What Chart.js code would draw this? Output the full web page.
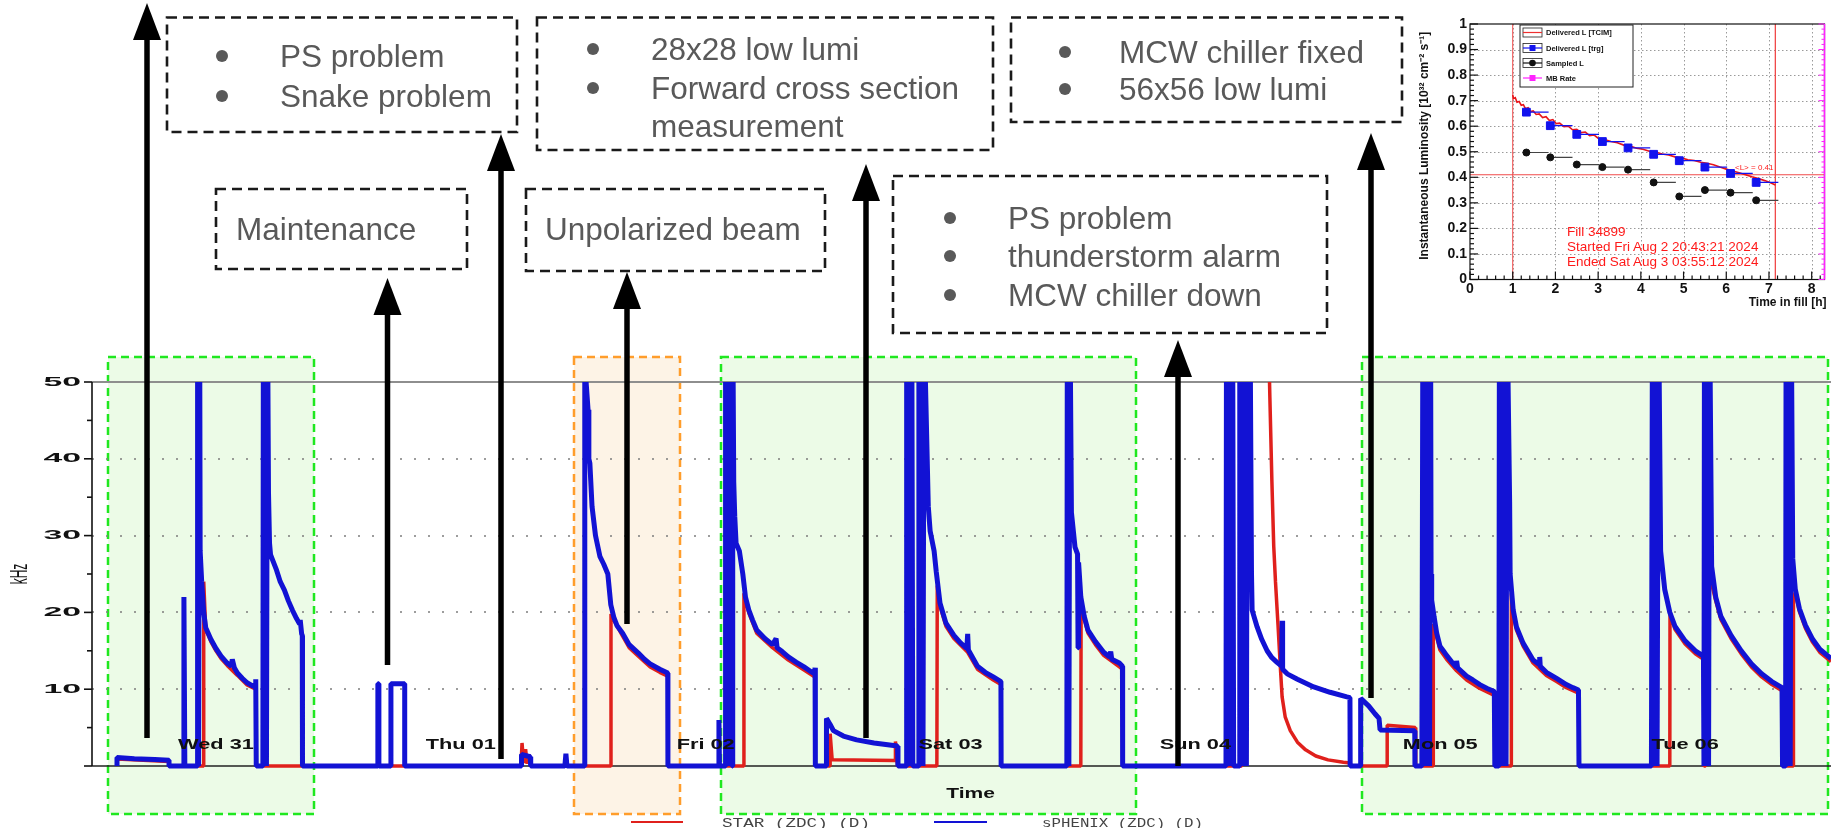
<!DOCTYPE html>
<html>
<head>
<meta charset="utf-8">
<title>ZDC rates, Jul 31 - Aug 6</title>
<script src="https://cdn.jsdelivr.net/npm/chart.js@4.4.1/dist/chart.umd.min.js"></script>
<style>
	html, body { margin: 0; padding: 0; background: #fff; }
	body { width: 1831px; height: 828px; position: relative; overflow: hidden; }
	.layer { position: absolute; left: 0; top: 0; }
	#rates { position: absolute; left: 0; top: 0; }
	#lumi { position: absolute; left: 1413px; top: 0; }
	.note rect { fill: none; stroke: #1a1a1a; stroke-width: 2.6; stroke-dasharray: 10 6; }
	.note circle { fill: #595959; }
	.note text { font-family: "Liberation Sans", Arial, sans-serif; font-size: 31.5px; fill: #595959; }
	.arrows line { stroke: #000; stroke-width: 5.5; }
	.arrows polygon { fill: #000; }
	.leg text { font-family: "Liberation Sans", Arial, sans-serif; font-weight: bold; font-size: 7.5px; fill: #111; }
</style>
</head>
<body>

<svg class="layer" width="1831" height="828">
	<g stroke-width="2.5" stroke-dasharray="8 5">
		<rect x="108" y="357" width="206" height="457" fill="#ecfbe7" stroke="#1fe81f"/>
		<rect x="574" y="357" width="106" height="457" fill="#fdf3e6" stroke="#ff9d2b"/>
		<rect x="721" y="357" width="415" height="457" fill="#ecfbe7" stroke="#1fe81f"/>
		<rect x="1362" y="357" width="466" height="457" fill="#ecfbe7" stroke="#1fe81f"/>
	</g>
</svg>

<canvas id="rates" width="1831" height="828"></canvas>
<canvas id="lumi" width="418" height="315"></canvas>

<svg class="layer" width="1831" height="828">
	<g class="note">
		<rect x="167" y="17.5" width="350" height="114.5"/>
		<circle cx="222" cy="56" r="6"/><circle cx="222" cy="96" r="6"/>
		<text x="280" y="67">PS problem</text>
		<text x="280" y="107">Snake problem</text>

		<rect x="216" y="189" width="251" height="80"/>
		<text x="236" y="240">Maintenance</text>

		<rect x="537" y="17.5" width="456" height="132.5"/>
		<circle cx="593" cy="49" r="6"/><circle cx="593" cy="88" r="6"/>
		<text x="651" y="60">28x28 low lumi</text>
		<text x="651" y="99">Forward cross section</text>
		<text x="651" y="137">measurement</text>

		<rect x="526" y="189" width="299" height="82"/>
		<text x="545" y="240">Unpolarized beam</text>

		<rect x="1011" y="17.5" width="391" height="104.5"/>
		<circle cx="1065" cy="52" r="6"/><circle cx="1065" cy="89" r="6"/>
		<text x="1119" y="63">MCW chiller fixed</text>
		<text x="1119" y="100">56x56 low lumi</text>

		<rect x="893" y="176" width="434" height="157"/>
		<circle cx="950" cy="218" r="6"/><circle cx="950" cy="256" r="6"/><circle cx="950" cy="295" r="6"/>
		<text x="1008" y="229">PS problem</text>
		<text x="1008" y="267">thunderstorm alarm</text>
		<text x="1008" y="306">MCW chiller down</text>
	</g>

	<g class="arrows">
		<line x1="147" y1="738" x2="147" y2="38"/><polygon points="133,40 161,40 147,3"/>
		<line x1="387.5" y1="665" x2="387.5" y2="312"/><polygon points="373.5,315 401.5,315 387.5,278"/>
		<line x1="501" y1="759" x2="501" y2="168"/><polygon points="487,171 515,171 501,134"/>
		<line x1="627" y1="624" x2="627" y2="306"/><polygon points="613,309 641,309 627,272"/>
		<line x1="866" y1="738" x2="866" y2="198"/><polygon points="852,201 880,201 866,164"/>
		<line x1="1178" y1="766" x2="1178" y2="374"/><polygon points="1164,377 1192,377 1178,340"/>
		<line x1="1371" y1="698" x2="1371" y2="167"/><polygon points="1357,170 1385,170 1371,133"/>
	</g>

	<g>
		<line x1="631" y1="822" x2="683" y2="822" stroke="#e0201c" stroke-width="2"/>
		<text x="722" y="827" font-family="Liberation Mono, monospace" font-size="12" fill="#444" textLength="148" lengthAdjust="spacingAndGlyphs">STAR (ZDC) (D)</text>
		<line x1="934" y1="822" x2="987" y2="822" stroke="#1212d4" stroke-width="2"/>
		<text x="1042" y="827" font-family="Liberation Mono, monospace" font-size="12" fill="#444" textLength="161" lengthAdjust="spacingAndGlyphs">sPHENIX (ZDC) (D)</text>
	</g>

	<g class="leg">
		<rect x="1520" y="25" width="113" height="62" fill="#fff" stroke="#222" stroke-width="1"/>
		<rect x="1523" y="28" width="19" height="9" fill="#fff" stroke="#222" stroke-width="0.8"/>
		<line x1="1523" y1="32.5" x2="1542" y2="32.5" stroke="#ee3030" stroke-width="1.2"/>
		<text x="1546" y="35">Delivered L [TCIM]</text>
		<rect x="1523" y="43.5" width="19" height="9" fill="#fff" stroke="#222" stroke-width="0.8"/>
		<line x1="1523" y1="48" x2="1542" y2="48" stroke="#1212ee" stroke-width="1.2"/>
		<rect x="1529.5" y="45" width="6" height="6" fill="#1212ee"/>
		<text x="1546" y="50.5">Delivered L [trg]</text>
		<rect x="1523" y="58.5" width="19" height="9" fill="#fff" stroke="#222" stroke-width="0.8"/>
		<line x1="1523" y1="63" x2="1542" y2="63" stroke="#111" stroke-width="1.2"/>
		<circle cx="1532.5" cy="63" r="3.3" fill="#111"/>
		<text x="1546" y="65.5">Sampled L</text>
		<line x1="1523" y1="78" x2="1542" y2="78" stroke="#ff22ff" stroke-width="1.2"/>
		<rect x="1529.5" y="75" width="6" height="6" fill="#ff22ff"/>
		<text x="1546" y="80.5">MB Rate</text>
	</g>

	<g font-family="Liberation Sans, Arial, sans-serif" fill="#ff1a1a">
		<text x="1735" y="170" font-size="8">&lt;L&gt; = 0.41</text>
		<text x="1567" y="236" font-size="13.5">Fill 34899</text>
		<text x="1567" y="251" font-size="13.5">Started Fri Aug 2 20:43:21 2024</text>
		<text x="1567" y="266" font-size="13.5">Ended Sat Aug 3 03:55:12 2024</text>
	</g>
</svg>

<script>
// hours since Wed 31 00:00, rate in kHz (values above 50 run off the top of the frame)
const dayLabels = ['Wed 31', 'Thu 01', 'Fri 02', 'Sat 03', 'Sun 04', 'Mon 05', 'Tue 06']
const dayLabelHours = [12, 36, 60, 84, 108, 132, 156]
const rateTicks = [10, 20, 30, 40, 50]

const sphenixTrace = [
	[2.3, 0], [2.3, 1.1], [4.0, 0.95], [6.0, 0.85], [7.4, 0.75], [7.4, 0],
	[8.86, 0], [8.86, 22], [8.95, 0],
	[10.15, 0], [10.2, 60], [10.3, 0], [10.4, 60], [10.45, 28], [10.6, 24], [10.8, 20], [11.0, 18], [11.5, 16.5], [12.0, 15.3], [12.5, 14.3], [13.1, 13.4], [13.5, 13.0], [13.6, 13.9], [13.8, 12.8], [14.1, 12.1], [14.6, 11.4], [15.0, 10.9], [15.5, 10.5], [15.85, 10.3], [15.9, 11.3], [15.95, 0],
	[16.6, 0], [16.65, 60], [16.75, 0], [16.85, 60], [16.95, 0], [17.05, 60], [17.15, 35.5], [17.25, 29], [17.35, 27.5], [17.5, 27], [17.94, 25.5], [18.3, 24], [18.71, 22.9], [19.1, 21.5], [19.49, 20.3], [19.9, 19.2], [20.2, 18.5], [20.26, 19], [20.4, 17.2], [20.46, 17], [20.48, 0],
	[27.87, 0], [27.87, 10.7], [27.97, 10.7], [27.97, 0], [29.15, 0], [29.15, 10.7], [30.5, 10.7], [30.5, 0],
	[41.9, 0], [41.95, 1.5], [42.8, 1.2], [42.85, 0],
	[46.2, 0], [46.3, 1.6], [46.4, 0],
	[48.1, 0], [48.15, 60], [48.28, 50], [48.47, 46.4], [48.55, 40], [48.65, 39.4], [48.86, 33.8], [49.2, 30], [49.63, 27.3], [50.0, 26.3], [50.41, 25], [50.7, 21], [50.99, 19.4], [51.3, 18.3], [51.86, 17.3], [52.5, 15.8], [53.4, 14.7], [54.0, 13.9], [54.56, 13.3], [55.5, 12.6], [56.28, 12.1], [56.3, 0],
	[61.25, 0], [61.3, 6], [61.35, 0],
	[61.9, 0], [61.95, 60], [62.1, 0], [62.2, 60], [62.35, 0], [62.45, 60], [62.6, 0], [62.65, 60], [62.75, 37], [62.85, 32.5], [62.98, 29], [63.3, 28], [63.64, 25], [63.9, 22], [64.23, 20.3], [64.6, 19], [65.0, 17.7], [65.8, 16.6], [66.55, 15.8], [66.9, 16.6], [67.0, 15.4], [67.5, 14.9], [68.1, 14.2], [68.9, 13.5], [69.64, 12.9], [70.3, 12.3], [70.7, 12.0], [70.72, 12.8], [70.75, 0],
	[71.84, 0], [71.84, 6.2], [72.2, 5.4], [72.52, 4.6], [73.5, 3.9], [74.8, 3.4], [76.5, 3.0], [78.8, 2.6], [78.85, 0],
	[79.65, 0], [79.7, 60], [79.85, 0], [79.95, 60], [80.1, 0], [80.2, 60], [80.3, 0], [80.85, 0], [80.9, 60], [81.05, 0], [81.15, 60], [81.3, 0], [81.4, 60], [81.54, 50], [81.82, 33.8], [82.0, 30.6], [82.39, 28], [82.6, 25.3], [82.97, 21.2], [83.55, 18.6], [84.33, 17.0], [85.0, 16.0], [85.6, 15.3], [85.68, 17.2], [85.75, 15.1], [86.64, 13.0], [87.4, 12.2], [88.19, 11.6], [88.94, 11.0], [88.96, 0],
	[95.4, 0], [95.45, 60], [95.6, 0], [95.7, 60], [95.85, 33], [96.2, 28.5], [96.45, 27.6], [96.5, 15.4], [96.55, 26.5], [96.77, 22], [97.1, 19.5], [97.47, 17.7], [98.2, 16.2], [99.01, 14.8], [99.6, 14.2], [99.7, 14.9], [99.8, 13.9], [100.55, 13.4], [100.85, 13.0], [100.87, 0],
	[111.0, 0], [111.05, 60], [111.25, 0], [111.35, 60], [111.55, 0], [111.65, 60], [111.75, 0], [112.3, 0], [112.35, 60], [112.5, 0], [112.6, 60], [112.75, 0], [112.85, 60], [113.0, 0], [113.1, 60], [113.25, 30], [113.35, 60], [113.5, 25], [113.56, 20.3], [114.05, 18.1], [114.5, 16.5], [115.03, 15.0], [115.5, 14.1], [116.0, 13.5], [116.45, 13.0], [116.5, 18.9], [116.55, 12.6], [117.0, 12.0], [118.0, 11.3], [119.6, 10.3], [121.2, 9.6], [122.85, 9.0], [123.15, 8.9], [123.17, 0],
	[124.2, 0], [124.2, 8.8], [125.0, 7.8], [125.6, 6.8], [126.0, 6.2], [126.1, 4.7], [129.5, 4.6], [129.52, 0],
	[130.2, 0], [130.3, 60], [130.45, 0], [130.55, 60], [130.7, 0], [130.8, 60], [130.95, 0], [131.05, 60], [131.1, 25], [131.16, 21.6], [131.4, 19.4], [131.65, 17.3], [131.97, 15.6], [132.3, 15.0], [132.62, 14.4], [133.1, 13.6], [133.55, 12.9], [133.6, 13.7], [133.7, 12.8], [134.58, 11.7], [135.2, 11.2], [135.88, 10.6], [136.6, 10.1], [137.3, 9.7], [137.35, 0],
	[137.75, 0], [137.8, 60], [137.95, 0], [138.05, 60], [138.2, 0], [138.3, 60], [138.45, 0], [138.55, 60], [138.8, 34.4], [138.85, 25], [139.15, 20.3], [139.47, 18.1], [140.12, 16.0], [141.1, 13.8], [141.7, 13.2], [141.75, 14.2], [141.8, 13.0], [142.4, 12.2], [143.4, 11.4], [144.36, 10.6], [145.0, 10.2], [145.55, 9.9], [145.6, 0],
	[152.7, 0], [152.8, 60], [152.95, 0], [153.1, 60], [153.25, 0], [153.4, 60], [153.6, 28], [154.0, 23], [154.5, 20], [155.0, 18.2], [156.0, 16.3], [157.0, 15.0], [157.8, 14.3],
	[157.85, 0], [157.9, 60], [158.05, 0], [158.15, 60], [158.3, 0], [158.4, 60], [158.6, 26], [159.0, 22], [159.5, 19.5], [160.5, 17], [161.5, 15], [162.5, 13.3], [163.5, 12], [164.5, 11], [165.5, 10.2], [165.55, 0],
	[165.85, 0], [165.9, 60], [166.05, 0], [166.15, 60], [166.3, 0], [166.4, 60], [166.55, 27], [166.8, 23], [167.2, 20.5], [167.8, 18.3], [168.5, 16.5], [169.2, 15.2], [170.3, 14.0],
]

const starTrace = [
	[2.3, 0], [2.3, 0.9], [7.4, 0.6], [7.4, 0],
	[10.75, 0], [10.8, 24], [11.0, 17.8], [11.5, 16.2], [12.0, 15.0], [12.5, 14.0], [13.1, 13.1], [14.1, 11.8], [15.0, 10.6], [15.9, 10.0], [15.95, 0],
	[41.9, 0], [42.0, 3.0], [42.15, 0.4], [42.35, 2.2], [42.5, 0.3], [42.7, 1.5], [42.85, 0],
	[50.7, 0], [50.72, 19.8], [51.08, 18.8], [51.86, 16.9], [52.5, 15.4], [53.4, 14.3], [54.56, 12.9], [55.5, 12.2], [56.28, 11.7], [56.3, 0],
	[63.72, 0], [63.75, 22.5], [64.23, 19.9], [65.0, 17.3], [66.55, 15.4], [68.1, 13.8], [69.64, 12.5], [70.7, 11.6], [70.75, 0],
	[72.2, 0], [72.2, 4.2], [72.4, 0.8], [78.6, 0.7], [78.6, 3.2], [78.8, 0],
	[82.66, 0], [82.7, 23.5], [82.97, 20.8], [83.55, 18.2], [84.33, 16.6], [85.68, 14.8], [86.64, 12.6], [88.19, 11.2], [88.94, 10.6], [88.96, 0],
	[96.77, 0], [96.8, 21], [97.1, 19.2], [97.47, 17.3], [98.2, 15.8], [99.01, 14.4], [100.55, 12.9], [100.85, 12.6], [100.87, 0],
	[112.5, 0], [112.55, 70], [115.1, 60], [115.3, 48], [115.5, 37], [115.68, 28.6], [115.85, 24], [116.1, 18.3], [116.3, 13.5], [116.5, 9.0], [116.8, 6.4], [117.3, 4.6], [118.0, 3.1], [118.8, 2.1], [119.8, 1.3], [121.0, 0.8], [122.5, 0.5], [123.17, 0.4], [123.2, 0],
	[126.8, 0], [126.8, 5.3], [129.55, 5.0], [129.6, 0],
	[131.3, 0], [131.32, 18.5], [131.65, 16.8], [131.97, 15.1], [132.62, 13.9], [133.6, 12.4], [134.58, 11.2], [135.88, 10.1], [137.3, 9.2], [137.35, 0],
	[138.95, 0], [138.97, 22.5], [139.15, 19.9], [139.47, 17.7], [140.12, 15.6], [141.1, 13.4], [142.4, 11.8], [143.4, 11.0], [144.36, 10.2], [145.55, 9.5], [145.6, 0],
	[154.5, 0], [154.52, 20], [155.0, 17.8], [156.0, 15.9], [157.0, 14.6], [157.8, 13.9], [157.85, 0],
	[158.0, 0], [158.05, 60], [158.55, 24], [159.0, 21.5], [159.5, 19.1], [160.5, 16.6], [161.5, 14.6], [162.5, 12.9], [163.5, 11.6], [164.5, 10.6], [165.5, 9.8], [165.55, 0],
	[166.6, 0], [166.62, 22], [166.8, 22.6], [167.2, 20.1], [167.8, 17.9], [168.5, 16.1], [169.2, 14.8], [170.3, 13.6],
]

// inset: fill 34899, luminosity in 1e32 cm^-2 s^-1 vs hours in fill
const fillHours = [1.00, 1.02, 1.06, 1.10, 1.15, 1.20, 1.25, 1.30, 1.36, 1.42, 1.48, 1.55, 1.62, 1.70, 1.78, 1.86, 1.94, 2.02, 2.10, 2.20, 2.30, 2.40, 2.50, 2.60, 2.70, 2.80, 2.90, 3.00, 3.15, 3.30, 3.45, 3.60, 3.75, 3.90, 4.05, 4.20, 4.35, 4.50, 4.65, 4.80, 4.95, 5.10, 5.25, 5.40, 5.55, 5.70, 5.85, 6.00, 6.15, 6.30, 6.45, 6.60, 6.75, 6.90, 7.05, 7.15]
const fillLumi = [0.722, 0.708, 0.712, 0.694, 0.697, 0.682, 0.684, 0.668, 0.672, 0.657, 0.660, 0.646, 0.648, 0.634, 0.637, 0.622, 0.626, 0.610, 0.612, 0.598, 0.600, 0.586, 0.588, 0.575, 0.577, 0.563, 0.566, 0.553, 0.548, 0.540, 0.535, 0.526, 0.522, 0.514, 0.510, 0.502, 0.498, 0.491, 0.487, 0.480, 0.476, 0.469, 0.466, 0.459, 0.455, 0.449, 0.440, 0.432, 0.425, 0.418, 0.410, 0.402, 0.395, 0.387, 0.378, 0.370]
const binHours = [1.32, 1.88, 2.5, 3.1, 3.7, 4.3, 4.9, 5.5, 6.1, 6.7]
const deliveredTrg = [0.655, 0.602, 0.568, 0.54, 0.515, 0.49, 0.465, 0.44, 0.415, 0.38]
const sampledLumi = [0.497, 0.478, 0.45, 0.44, 0.43, 0.38, 0.325, 0.35, 0.34, 0.31]
const binWidth = 0.52
const physicsWindow = [1.0, 7.15]
const meanLumi = 0.41
const lumiTicks = [0, 0.1, 0.2, 0.3, 0.4, 0.5, 0.6, 0.7, 0.8, 0.9, 1]
const lumiTickLabels = ['0', '0.1', '0.2', '0.3', '0.4', '0.5', '0.6', '0.7', '0.8', '0.9', '1']
const fillHourTicks = [0, 1, 2, 3, 4, 5, 6, 7, 8]

const blue = '#1212d4'
const red = '#e0201c'

const toXY = trace => trace.map(([h, v]) => ({ x: h, y: v }))

function seg(ctx, x1, y1, x2, y2) {
	ctx.beginPath()
	ctx.moveTo(x1, y1)
	ctx.lineTo(x2, y2)
	ctx.stroke()
}

// ROOT labels come out stretched sideways, so stretch the text the same way
function wideText(ctx, text, px, py, sx) {
	ctx.save()
	ctx.translate(px, py)
	ctx.scale(sx, 1)
	ctx.fillText(text, 0, 0)
	ctx.restore()
}

const rootFrame = {
	id: 'rootFrame',
	beforeDatasetsDraw(chart) {
		const { ctx, chartArea: a, scales: { y } } = chart
		ctx.save()
		ctx.strokeStyle = '#7d7d7d'
		ctx.lineWidth = 1.6
		ctx.setLineDash([2, 12])
		rateTicks.filter(v => v < 50).forEach(v => {
			const py = Math.round(y.getPixelForValue(v))
			seg(ctx, a.left, py, a.right, py)
		})
		ctx.setLineDash([])
		ctx.strokeStyle = '#8e8e8e'
		ctx.lineWidth = 2
		seg(ctx, a.left, a.top, a.right, a.top)
		ctx.strokeStyle = '#222'
		ctx.lineWidth = 1.5
		seg(ctx, a.left, a.bottom, a.right, a.bottom)
		ctx.restore()
	},
	afterDraw(chart) {
		const { ctx, chartArea: a, scales: { x, y } } = chart
		ctx.save()
		ctx.strokeStyle = '#111'
		ctx.lineWidth = 1.6
		seg(ctx, a.left, a.top, a.left, a.bottom)
		for (let v = 0; v <= 50; v += 5) {
			const py = y.getPixelForValue(v)
			seg(ctx, a.left - (v % 10 ? 5 : 8), py, a.left, py)
		}
		ctx.fillStyle = '#111'
		ctx.font = 'bold 13px "Liberation Sans", Arial, sans-serif'
		ctx.textAlign = 'right'
		ctx.textBaseline = 'middle'
		rateTicks.forEach(v => wideText(ctx, String(v), a.left - 11, y.getPixelForValue(v), 2.6))

		ctx.save()
		ctx.translate(20, (a.top + a.bottom) / 2)
		ctx.rotate(-Math.PI / 2)
		ctx.scale(1, 2)
		ctx.textAlign = 'center'
		ctx.font = '12px "Liberation Sans", Arial, sans-serif'
		ctx.fillText('kHz', 0, 0)
		ctx.restore()

		ctx.textAlign = 'center'
		ctx.font = 'bold 15px "Liberation Sans", Arial, sans-serif'
		dayLabels.forEach((lab, i) => wideText(ctx, lab, x.getPixelForValue(dayLabelHours[i]), a.bottom - 21, 1.45))
		wideText(ctx, 'Time', (a.left + a.right) / 2 + 9, a.bottom + 28, 1.4)
		ctx.restore()
	},
}

const lumiFrame = {
	id: 'lumiFrame',
	beforeDatasetsDraw(chart) {
		const { ctx, chartArea: a, scales: { x, y } } = chart
		ctx.save()
		ctx.strokeStyle = '#9a9a9a'
		ctx.lineWidth = 1
		ctx.setLineDash([1.5, 2.5])
		lumiTicks.slice(1, -1).forEach(v => {
			const py = Math.round(y.getPixelForValue(v)) + 0.5
			seg(ctx, a.left, py, a.right, py)
		})
		fillHourTicks.slice(1).forEach(v => {
			const px = Math.round(x.getPixelForValue(v)) + 0.5
			seg(ctx, px, a.top, px, a.bottom)
		})
		ctx.restore()
	},
	afterDraw(chart) {
		const { ctx, chartArea: a, scales: { x, y } } = chart
		ctx.save()
		ctx.strokeStyle = '#111'
		ctx.lineWidth = 1.2
		ctx.strokeRect(a.left, a.top, a.right - a.left, a.bottom - a.top)
		for (let i = 0; i <= 50; i++) {
			const py = y.getPixelForValue(i / 50)
			seg(ctx, a.left, py, a.left + (i % 5 ? 4 : 8), py)
		}
		for (let i = 0; i * 0.2 <= 8.3; i++) {
			const px = x.getPixelForValue(i * 0.2)
			seg(ctx, px, a.bottom, px, a.bottom - (i % 5 ? 4 : 8))
		}
		ctx.strokeStyle = '#ff22ff'
		ctx.lineWidth = 1.5
		seg(ctx, a.right, a.top, a.right, a.bottom)
		ctx.lineWidth = 1
		for (let i = 0; i <= 50; i++) {
			const py = y.getPixelForValue(i / 50)
			seg(ctx, a.right, py, a.right - (i % 5 ? 3 : 6), py)
		}

		ctx.fillStyle = '#111'
		ctx.font = 'bold 14px "Liberation Sans", Arial, sans-serif'
		ctx.textAlign = 'right'
		ctx.textBaseline = 'middle'
		lumiTicks.forEach((v, i) => ctx.fillText(lumiTickLabels[i], a.left - 3, y.getPixelForValue(v)))
		ctx.textAlign = 'center'
		ctx.textBaseline = 'top'
		fillHourTicks.forEach(v => ctx.fillText(String(v), x.getPixelForValue(v), a.bottom + 3))
		ctx.textAlign = 'right'
		ctx.font = 'bold 12px "Liberation Sans", Arial, sans-serif'
		ctx.fillText('Time in fill [h]', a.right + 2, a.bottom + 17)

		ctx.save()
		ctx.translate(a.left - 45, (a.top + a.bottom) / 2 - 6)
		ctx.rotate(-Math.PI / 2)
		ctx.textAlign = 'center'
		ctx.textBaseline = 'middle'
		ctx.font = 'bold 12px "Liberation Sans", Arial, sans-serif'
		ctx.fillText('Instantaneous Luminosity [10³² cm⁻² s⁻¹]', 0, 0)
		ctx.restore()
		ctx.restore()
	},
}

const rateChart = new Chart(document.getElementById('rates'), {
	type: 'line',
	data: {
		datasets: [
			{
				label: 'sPHENIX (ZDC) (D)',
				data: toXY(sphenixTrace),
				borderColor: blue,
				borderWidth: 5,
				borderJoinStyle: 'bevel',
				pointRadius: 0,
				clip: { left: 0, top: 0, right: 0, bottom: 6 },
			},
			{
				label: 'STAR (ZDC) (D)',
				data: toXY(starTrace),
				borderColor: red,
				borderWidth: 3.5,
				borderJoinStyle: 'bevel',
				pointRadius: 0,
				clip: { left: 0, top: 0, right: 0, bottom: 6 },
			},
		],
	},
	options: {
		responsive: false,
		animation: false,
		devicePixelRatio: 1,
		layout: { padding: { left: 92, top: 382, right: 0, bottom: 62 } },
		scales: {
			x: { type: 'linear', min: -0.15, max: 170.3, display: false },
			y: { min: 0, max: 50, display: false },
		},
		plugins: { legend: { display: false }, tooltip: { enabled: false } },
	},
	plugins: [rootFrame],
})

const barsOf = values => binHours.flatMap((t, i) => [
	{ x: t, y: values[i] },
	{ x: t + binWidth, y: values[i] },
	{ x: t + binWidth, y: null },
])

const lumiChart = new Chart(document.getElementById('lumi'), {
	type: 'line',
	data: {
		datasets: [
			{
				data: binHours.map((t, i) => ({ x: t, y: deliveredTrg[i] })),
				showLine: false,
				pointStyle: 'rect',
				pointRadius: 5.5,
				backgroundColor: '#1212ee',
				borderColor: '#1212ee',
			},
			{
				data: binHours.map((t, i) => ({ x: t, y: sampledLumi[i] })),
				showLine: false,
				pointRadius: 3.5,
				backgroundColor: '#111',
				borderColor: '#111',
			},
			{ data: barsOf(deliveredTrg), borderColor: '#1212ee', borderWidth: 1.2, pointRadius: 0 },
			{ data: barsOf(sampledLumi), borderColor: '#444', borderWidth: 1.2, pointRadius: 0 },
			{
				data: fillHours.map((t, i) => ({ x: t, y: fillLumi[i] })),
				borderColor: '#e8141a',
				borderWidth: 1.6,
				pointRadius: 0,
			},
			{
				data: [
					{ x: physicsWindow[0], y: 0 }, { x: physicsWindow[0], y: 1 }, { x: physicsWindow[0], y: null },
					{ x: physicsWindow[1], y: 1 }, { x: physicsWindow[1], y: 0 },
				],
				borderColor: '#f04a4a',
				borderWidth: 1,
				pointRadius: 0,
			},
			{
				data: [{ x: 0, y: meanLumi }, { x: 8.3, y: meanLumi }],
				borderColor: '#f04a4a',
				borderWidth: 1.2,
				pointRadius: 0,
			},
		],
	},
	options: {
		responsive: false,
		animation: false,
		devicePixelRatio: 1,
		layout: { padding: { left: 57, top: 24, right: 5, bottom: 35.5 } },
		scales: {
			x: { type: 'linear', min: 0, max: 8.3, display: false },
			y: { min: 0, max: 1, display: false },
		},
		plugins: { legend: { display: false }, tooltip: { enabled: false } },
	},
	plugins: [lumiFrame],
})
</script>
</body>
</html>
